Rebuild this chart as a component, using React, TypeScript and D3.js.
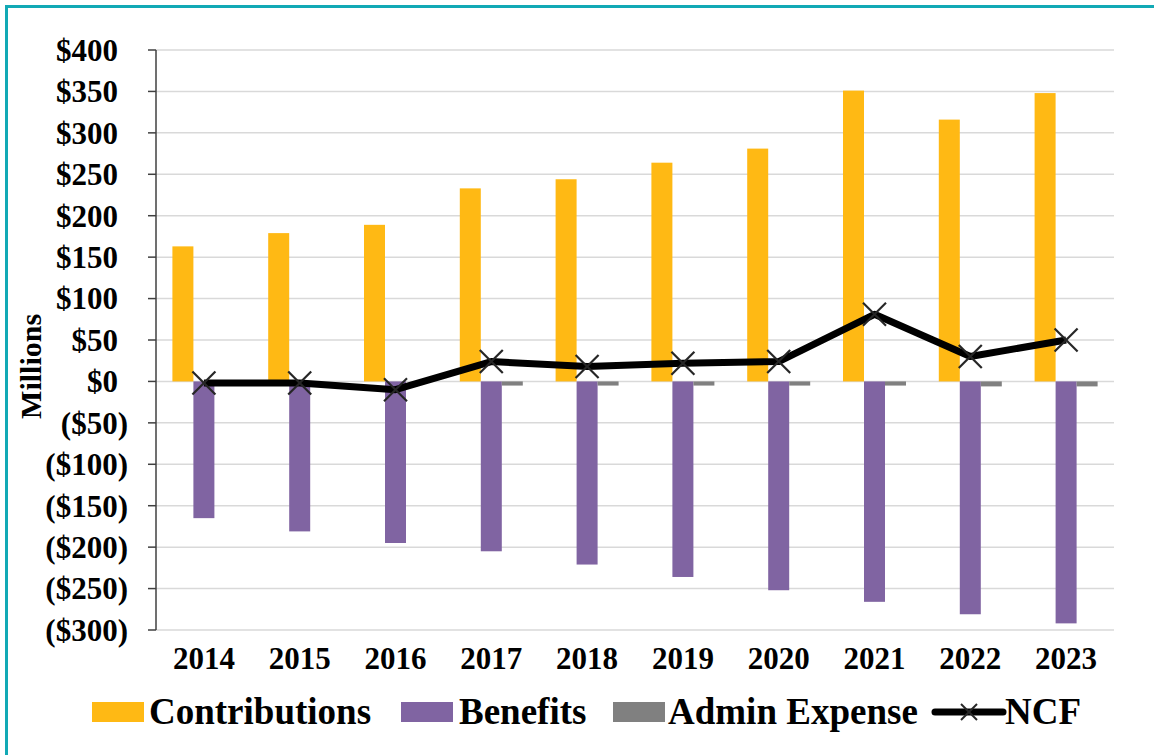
import React from "react";
import * as d3 from "d3";

const years = ["2014", "2015", "2016", "2017", "2018", "2019", "2020", "2021", "2022", "2023"];
const contributions = [163, 179, 189, 233, 244, 264, 281, 351, 316, 348];
const benefits = [-165, -181, -195, -205, -221, -236, -252, -266, -281, -292];
const adminExpense = [0, 0, 0, -5, -5, -5, -5, -5, -6, -6];
const ncf = [-2, -2, -10, 24, 18, 22, 24, 81, 30, 50];
const yTicks = [400, 350, 300, 250, 200, 150, 100, 50, 0, -50, -100, -150, -200, -250, -300];

const seriesNames = ["Contributions", "Benefits", "Admin Expense", "NCF"];
const colors = { contrib: "#FFB914", benefits: "#8064A2", admin: "#808080", ncf: "#000000" };

const W = 1154;
const H = 755;
const font = "'Liberation Serif', 'Times New Roman', serif";

function fmt(v: number) {
  return v < 0 ? `($${Math.abs(v)})` : `$${v}`;
}

export default function App() {
  const x = d3.scaleBand<string>().domain(years).range([156, 1114]);
  const y = d3.scaleLinear().domain([-300, 400]).range([630, 50]);
  const barW = 21;
  const cx = (yr: string) => (x(yr) as number) + x.bandwidth() / 2;
  const line = d3
    .line<number>()
    .x((_, i) => cx(years[i]))
    .y((d) => y(d));

  const bar = (yr: string, v: number, slot: number, fill: string, key: string) => {
    const x0 = cx(yr) - barW * 1.5 + slot * barW;
    const y0 = Math.min(y(0), y(v));
    const h = Math.abs(y(v) - y(0));
    return <rect key={key} x={x0} y={y0} width={barW} height={h} fill={fill} />;
  };

  const Xmark = ({ px, py, s, w }: { px: number; py: number; s: number; w: number }) => (
    <g stroke="#262626" strokeWidth={w}>
      <line x1={px - s} y1={py - s} x2={px + s} y2={py + s} />
      <line x1={px - s} y1={py + s} x2={px + s} y2={py - s} />
    </g>
  );

  const legendY = 702;
  const legendItems = [
    { sx: 92, tx: 149, color: colors.contrib },
    { sx: 401, tx: 459, color: colors.benefits },
    { sx: 613, tx: 668, color: colors.admin },
  ];

  return (
    <div style={{ position: "absolute", left: 0, top: 0 }}>
      <svg width={W} height={H} style={{ display: "block", background: "#fff" }}>
        <rect x={6.5} y={6.5} width={1300} height={900} fill="none" stroke="#12A9B5" strokeWidth={3} />
        {/* gridlines */}
        {yTicks.map((t) => (
          <line key={"g" + t} x1={156} x2={1114} y1={y(t)} y2={y(t)} stroke="#D9D9D9" strokeWidth={1.5} />
        ))}
        {/* bars */}
        {years.map((yr, i) => (
          <g key={"b" + yr}>
            {bar(yr, contributions[i], 0, colors.contrib, "c")}
            {bar(yr, benefits[i], 1, colors.benefits, "b")}
            {bar(yr, adminExpense[i], 2, colors.admin, "a")}
          </g>
        ))}
        {/* y axis */}
        <line x1={156} x2={156} y1={y(400)} y2={y(-300)} stroke="#404040" strokeWidth={1.5} />
        {yTicks.map((t) => (
          <g key={"t" + t}>
            <line x1={148} x2={156} y1={y(t)} y2={y(t)} stroke="#404040" strokeWidth={1.5} />
            <text
              x={t < 0 ? 128 : 118}
              y={y(t)}
              dy="0.35em"
              textAnchor="end"
              fontFamily={font}
              fontWeight="bold"
              fontSize={31}
              fill="#000"
            >
              {fmt(t)}
            </text>
          </g>
        ))}
        <text
          transform={`translate(41,${y(0) - 15}) rotate(-90)`}
          textAnchor="middle"
          fontFamily={font}
          fontWeight="bold"
          fontSize={30}
          fill="#000"
        >
          Millions
        </text>
        {/* x labels */}
        {years.map((yr) => (
          <text
            key={"x" + yr}
            x={cx(yr)}
            y={669}
            textAnchor="middle"
            fontFamily={font}
            fontWeight="bold"
            fontSize={31}
            fill="#000"
          >
            {yr}
          </text>
        ))}
        {/* NCF line */}
        <path d={line(ncf) || ""} fill="none" stroke={colors.ncf} strokeWidth={7} strokeLinejoin="round" />
        {ncf.map((v, i) => (
          <Xmark key={"m" + i} px={cx(years[i])} py={y(v)} s={11.5} w={2.2} />
        ))}
        {/* legend */}
        {legendItems.map((it, i) => (
          <g key={"l" + i}>
            <rect x={it.sx} y={legendY} width={52} height={20} fill={it.color} />
            <text x={it.tx} y={724} fontFamily={font} fontWeight="bold" fontSize={37} fill="#000">
              {seriesNames[i]}
            </text>
          </g>
        ))}
        <line x1={935} x2={1003} y1={712} y2={712} stroke="#000" strokeWidth={7} strokeLinecap="round" />
        <Xmark px={969} py={712} s={8} w={2} />
        <text x={1005} y={724} fontFamily={font} fontWeight="bold" fontSize={37} fill="#000">
          {seriesNames[3]}
        </text>
      </svg>
    </div>
  );
}
